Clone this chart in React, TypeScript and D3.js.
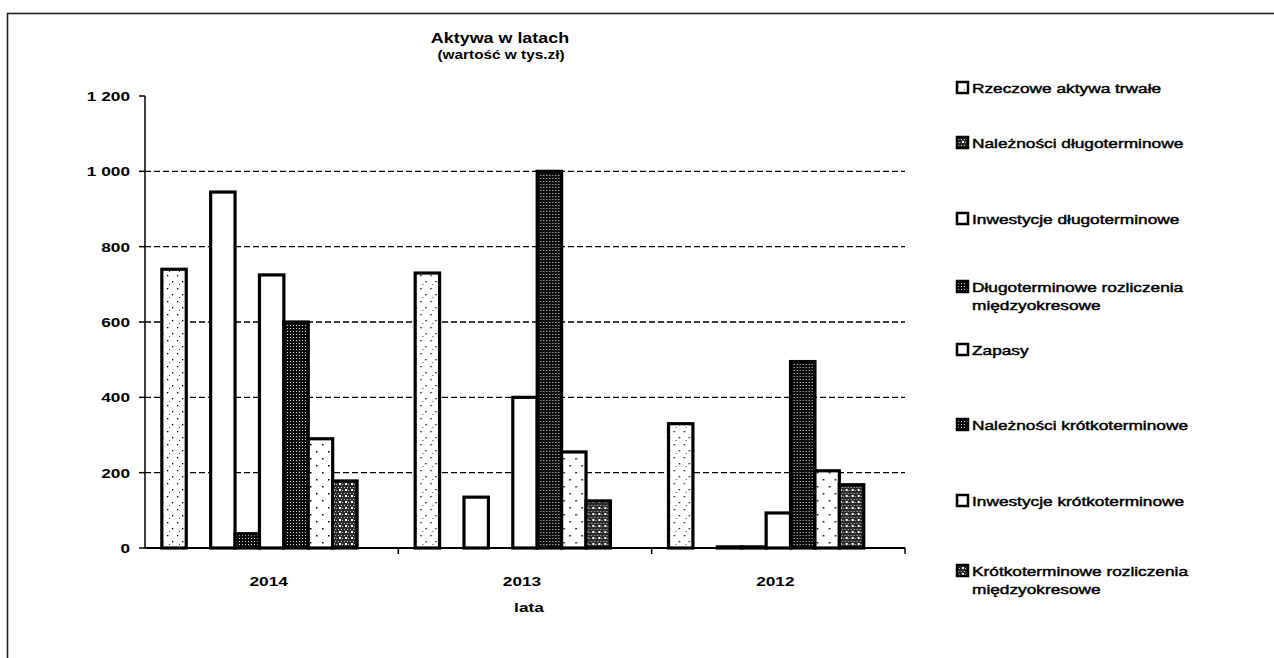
import React from 'react';
import * as d3 from 'd3';

const years = ['2014', '2013', '2012'];

const seriesNames = [
  'Rzeczowe aktywa trwałe',
  'Należności długoterminowe',
  'Inwestycje długoterminowe',
  'Długoterminowe rozliczenia międzyokresowe',
  'Zapasy',
  'Należności krótkoterminowe',
  'Inwestycje krótkoterminowe',
  'Krótkoterminowe rozliczenia międzyokresowe',
];

// values per series, in the order of years (2014, 2013, 2012)
const rzeczowe = [740, 730, 330];
const naleznosciDl = [0, 0, 0];
const inwestycjeDl = [945, 135, 3];
const rozliczeniaDl = [38, 0, 3];
const zapasy = [725, 400, 93];
const naleznosciKr = [600, 1000, 495];
const inwestycjeKr = [290, 255, 205];
const rozliczeniaKr = [178, 125, 168];

const seriesValues = [
  rzeczowe, naleznosciDl, inwestycjeDl, rozliczeniaDl,
  zapasy, naleznosciKr, inwestycjeKr, rozliczeniaKr,
];

const yTicks = [0, 200, 400, 600, 800, 1000, 1200];
const gridTicks = [200, 400, 600, 800, 1000];

// fill per series (pattern ids)
const fills = [
  'url(#pLight)', 'url(#pSpots)', '#fff', 'url(#pDark)',
  '#fff', 'url(#pDark)', 'url(#pLight2)', 'url(#pSpots)',
];

// legend layout
const legendLines: string[][] = [
  ['Rzeczowe aktywa trwałe'],
  ['Należności długoterminowe'],
  ['Inwestycje długoterminowe'],
  ['Długoterminowe rozliczenia', 'międzyokresowe'],
  ['Zapasy'],
  ['Należności krótkoterminowe'],
  ['Inwestycje krótkoterminowe'],
  ['Krótkoterminowe rozliczenia', 'międzyokresowe'],
];
const legendY = [88, 143, 219, 287, 350, 425, 501, 571];

const W = 1274;
const H = 658;
const FONT = '"Liberation Sans", Arial, sans-serif';
const SX = 1.28; // the scanned text is wide

function Txt(props: { x: number; y: number; size: number; bold?: boolean; anchor?: string; heavy?: boolean; children: React.ReactNode }) {
  const { x, y, size, bold, anchor, heavy, children } = props;
  return (
    <text
      transform={`translate(${x},${y}) scale(${SX},1)`}
      fontFamily={FONT}
      fontSize={size}
      fontWeight={bold ? 'bold' : 'normal'}
      textAnchor={anchor || 'start'}
      fill="#000"
      stroke={heavy ? '#000' : 'none'}
      strokeWidth={heavy ? 0.45 : 0}
    >
      {children}
    </text>
  );
}

export default function App() {
  const x0 = d3.scaleBand<string>().domain(years).range([145, 905]).padding(0);
  const x1 = d3.scaleBand<string>()
    .domain([...seriesNames, '_'])
    .range([0, x0.bandwidth()])
    .paddingInner(0)
    .paddingOuter(0.69);
  const y = d3.scaleLinear().domain([0, 1200]).range([548, 96]);

  return (
    <svg width={W} height={H} style={{ position: 'absolute', left: 0, top: 0, background: '#fff' }}>
      <defs>
        <pattern id="pLight" width="10" height="13" patternUnits="userSpaceOnUse">
          <rect width="10" height="13" fill="#fff" />
          <rect x="2" y="2" width="1.3" height="1.3" fill="#000" />
          <rect x="7" y="8" width="1.3" height="1.3" fill="#000" />
          <rect x="4" y="11" width="1" height="1" fill="#444" />
        </pattern>
        <pattern id="pLight2" width="12" height="14" patternUnits="userSpaceOnUse">
          <rect width="12" height="14" fill="#fff" />
          <rect x="3" y="3" width="1.5" height="1.5" fill="#000" />
          <rect x="9" y="10" width="1.5" height="1.5" fill="#000" />
        </pattern>
        <pattern id="pDark" width="3" height="3" patternUnits="userSpaceOnUse">
          <rect width="3" height="3" fill="#0a0a0a" />
          <rect x="1" y="1" width="1" height="1" fill="#ddd" />
        </pattern>
        <pattern id="pSpots" width="6" height="6" patternUnits="userSpaceOnUse">
          <rect width="6" height="6" fill="#2a2a2a" />
          <rect x="1" y="1" width="1" height="1" fill="#ccc" />
          <rect x="4" y="1" width="1" height="1" fill="#ccc" />
          <rect x="2" y="3" width="2" height="2" fill="#fff" />
          <rect x="5" y="4" width="1" height="1" fill="#ccc" />
        </pattern>
      </defs>

      {/* frame */}
      <rect x={7.5} y={13.5} width={W + 20} height={H + 20} fill="none" stroke="#222" strokeWidth={1.6} />

      {/* title */}
      <Txt x={500} y={43} size={14} bold anchor="middle">Aktywa w latach</Txt>
      <Txt x={501} y={59} size={12} bold anchor="middle">(wartość w tys.zł)</Txt>

      {/* grid */}
      {gridTicks.map((t) => (
        <line key={t} x1={145} x2={905} y1={y(t)} y2={y(t)} stroke="#000" strokeWidth={1.3} strokeDasharray="6,3" />
      ))}

      {/* bars */}
      {years.map((yr, yi) => (
        <g key={yr} transform={`translate(${x0(yr)},0)`}>
          {seriesNames.map((s, si) => {
            const v = seriesValues[si][yi];
            if (v <= 0) return null;
            return (
              <rect
                key={s}
                x={x1(s)}
                y={y(v)}
                width={x1.bandwidth()}
                height={y(0) - y(v)}
                fill={fills[si]}
                stroke="#000"
                strokeWidth={3.2}
              />
            );
          })}
        </g>
      ))}

      {/* y axis */}
      <line x1={145} x2={145} y1={y(1200)} y2={y(0)} stroke="#000" strokeWidth={1.5} />
      {yTicks.map((t) => (
        <g key={t}>
          <line x1={139} x2={145} y1={y(t)} y2={y(t)} stroke="#000" strokeWidth={1.5} />
          <Txt x={130} y={y(t) + 5} size={13.5} bold anchor="end">
            {d3.format(',')(t).replace(/,/g, ' ')}
          </Txt>
        </g>
      ))}

      {/* x axis */}
      <line x1={145} x2={905} y1={y(0)} y2={y(0)} stroke="#000" strokeWidth={1.8} />
      {years.map((yr) => (
        <g key={yr}>
          <line x1={x0(yr)! + x0.bandwidth()} x2={x0(yr)! + x0.bandwidth()} y1={y(0)} y2={y(0) + 6} stroke="#000" strokeWidth={1.5} />
          <Txt x={x0(yr)! + x0.bandwidth() / 2 - 3} y={586} size={13.5} bold anchor="middle">{yr}</Txt>
        </g>
      ))}
      <Txt x={529} y={612} size={13.5} bold anchor="middle">lata</Txt>

      {/* legend */}
      {legendLines.map((lines, i) => (
        <g key={i}>
          <rect x={957} y={legendY[i] - 6} width={11} height={11} fill={fills[i]} stroke="#000" strokeWidth={2.5} />
          {lines.map((ln, li) => (
            <Txt key={li} x={972} y={legendY[i] + 5 + li * 18} size={13.5} heavy>{ln}</Txt>
          ))}
        </g>
      ))}
    </svg>
  );
}
